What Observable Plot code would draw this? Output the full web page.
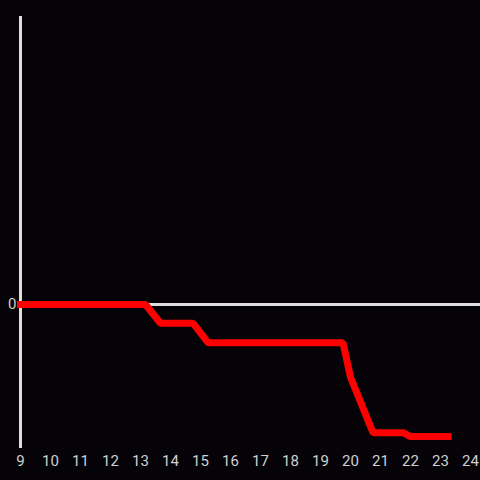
<!DOCTYPE html>
<html>
<head>
<meta charset="utf-8">
<script src="https://cdn.jsdelivr.net/npm/d3@7"></script>
<script src="https://cdn.jsdelivr.net/npm/@observablehq/plot@0.6"></script>
<style>
  html, body { margin: 0; padding: 0; background: #050308; }
  #chart { width: 480px; height: 480px; }
</style>
</head>
<body>
<div id="chart"></div>
<script>
const hours = [9, 13.167, 13.667, 14.75, 15.25, 19.75, 20.0, 20.75, 21.75, 22.0, 23.25];
const values = [0, 0, -5.2, -5.2, -10.6, -10.6, -20.2, -35.6, -35.6, -36.7, -36.7];
const xTicks = [9, 10, 11, 12, 13, 14, 15, 16, 17, 18, 19, 20, 21, 22, 23, 24];
const yTicks = [0];

const data = hours.map((h, i) => ({hour: h, value: values[i]}));

const chart = Plot.plot({
  width: 480,
  height: 480,
  marginTop: 16,
  marginBottom: 32,
  marginLeft: 20,
  marginRight: 0,
  style: {background: "#050308", color: "#d0d0d0", fontSize: "15px", fontFamily: "Roboto, sans-serif"},
  x: {domain: [9, 24.333], ticks: xTicks, tickSize: 0, tickPadding: 7, label: null, tickFormat: d => String(d)},
  y: {domain: [-40, 80], ticks: yTicks, tickSize: 0, tickPadding: 4, label: null},
  marks: [
    Plot.ruleY(yTicks, {stroke: "#dedede", strokeWidth: 3}),
    Plot.ruleX([9], {stroke: "#dedede", strokeWidth: 3}),
    Plot.line(data, {x: "hour", y: "value", stroke: "#ff0000", strokeWidth: 7, strokeLinecap: "square", strokeLinejoin: "miter", curve: "linear"})
  ]
});
document.getElementById("chart").appendChild(chart);
</script>
</body>
</html>
